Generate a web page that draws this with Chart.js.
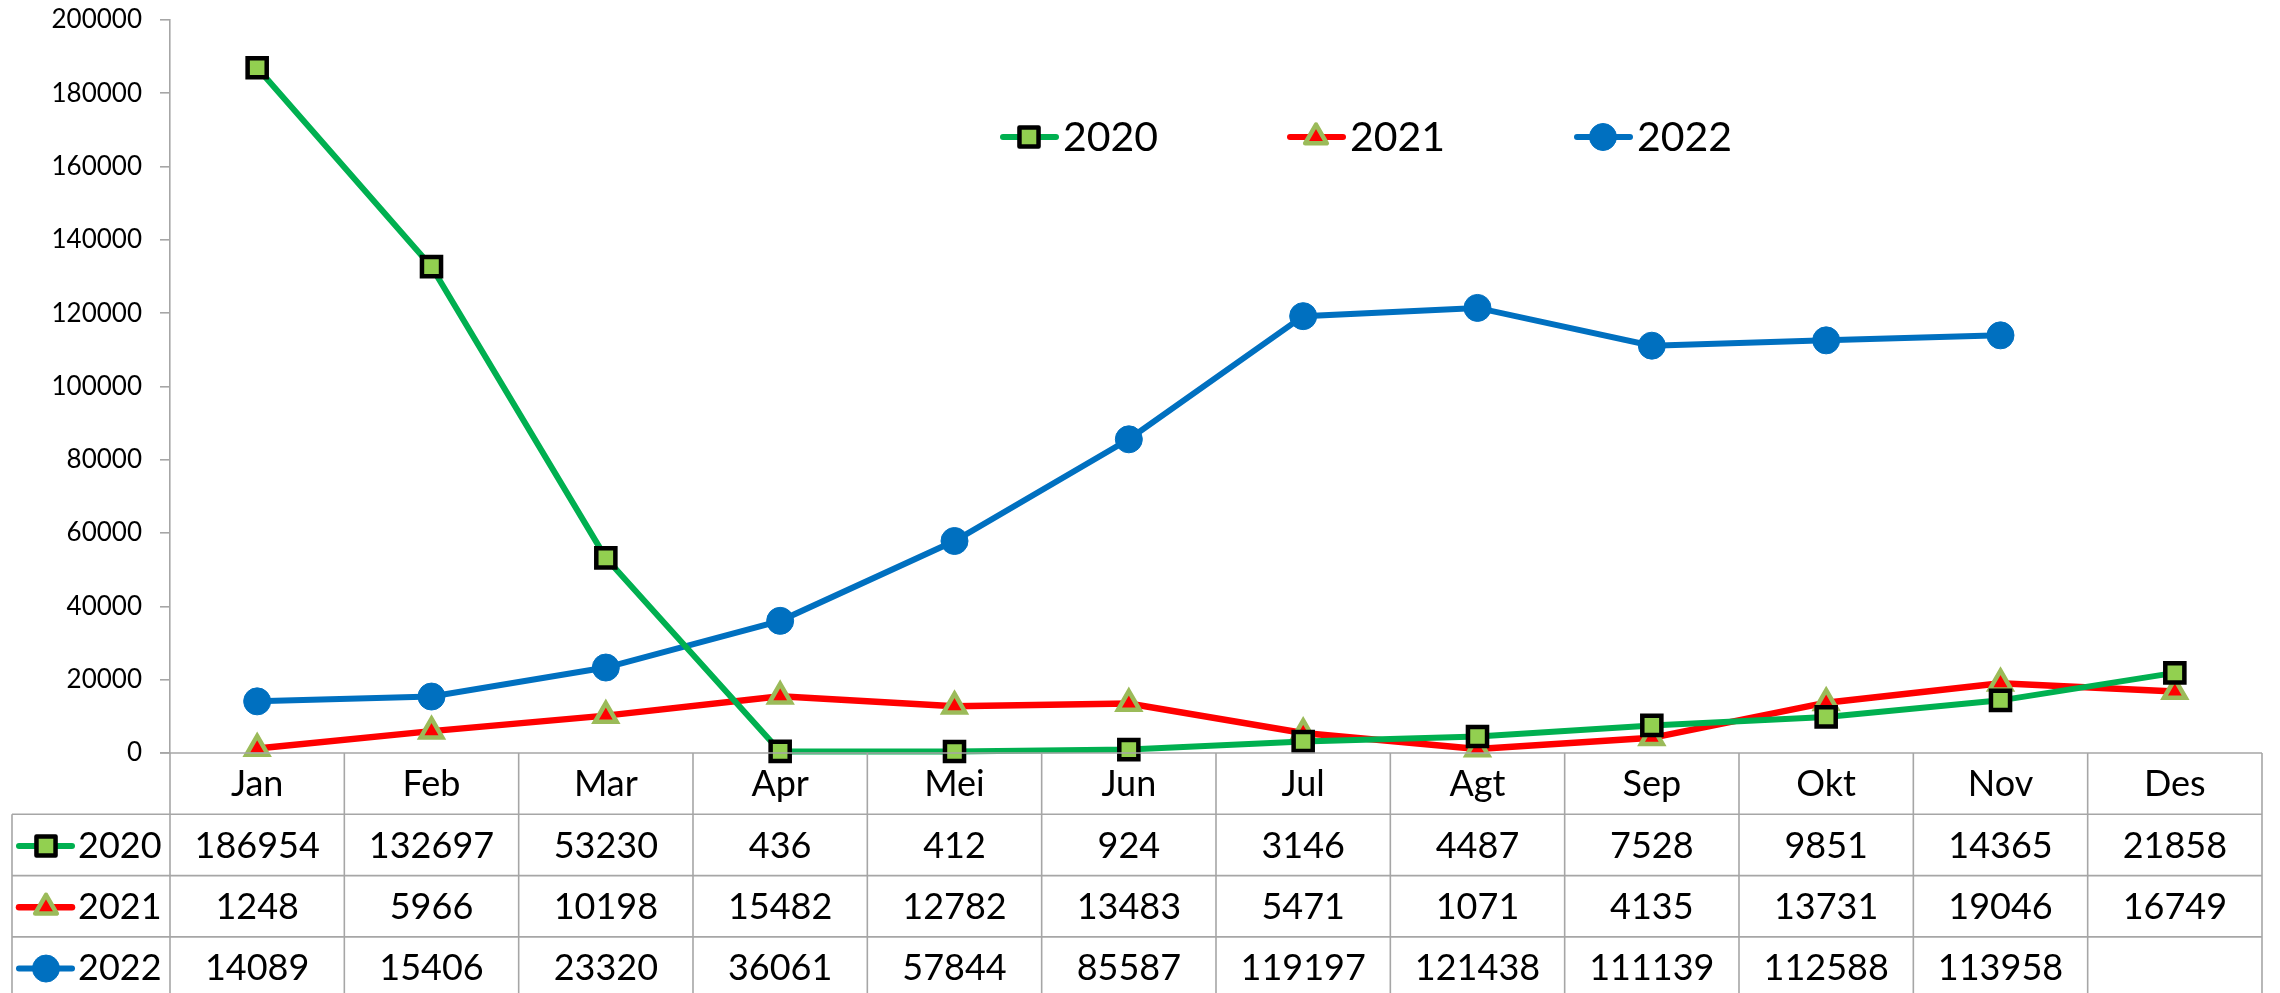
<!DOCTYPE html>
<html>
<head>
<meta charset="utf-8">
<script src="https://cdn.jsdelivr.net/npm/chart.js@4/dist/chart.umd.min.js"></script>
<style>
  html, body { margin: 0; padding: 0; background: #ffffff; }
  #wrap { width: 2280px; height: 993px; position: relative; }
</style>
</head>
<body>
<div id="wrap"><canvas id="c" width="2280" height="993"></canvas></div>
<script>
const months = ['Jan','Feb','Mar','Apr','Mei','Jun','Jul','Agt','Sep','Okt','Nov','Des'];
const seriesNames = ['2020','2021','2022'];
const values2020 = [186954,132697,53230,436,412,924,3146,4487,7528,9851,14365,21858];
const values2021 = [1248,5966,10198,15482,12782,13483,5471,1071,4135,13731,19046,16749];
const values2022 = [14089,15406,23320,36061,57844,85587,119197,121438,111139,112588,113958,null];
const yTicks = [0,20000,40000,60000,80000,100000,120000,140000,160000,180000,200000];

const FONT = 'Lato, "Open Sans", sans-serif';
const GRIDC = '#a6a6a6';

const styles = [
  { line: '#00B050', fill: '#92D050', border: '#000000', shape: 'rect', r: 13.5, bw: 4.5, lw: 6 },
  { line: '#FF0000', fill: '#FF0000', border: '#9BBB59', shape: 'triangle', r: 12.5, bw: 4.5, lw: 6.5 },
  { line: '#0070C0', fill: '#0070C0', border: '#0070C0', shape: 'circle', r: 13.5, bw: 1, lw: 6 }
];
const seriesValues = [values2020, values2021, values2022];

function drawMarker(ctx, st, x, y) {
  ctx.save();
  ctx.translate(x, y);
  ctx.fillStyle = st.fill;
  ctx.strokeStyle = st.border;
  ctx.lineWidth = st.bw;
  ctx.lineJoin = 'round';
  ctx.beginPath();
  const r = st.r;
  if (st.shape === 'rect') {
    const s = Math.SQRT1_2 * r;
    ctx.rect(-s, -s, 2 * s, 2 * s);
  } else if (st.shape === 'triangle') {
    const h = Math.sin(Math.PI / 3) * r;
    ctx.moveTo(0, -r);
    ctx.lineTo(h, r / 2);
    ctx.lineTo(-h, r / 2);
    ctx.closePath();
  } else {
    ctx.arc(0, 0, r, 0, Math.PI * 2);
  }
  ctx.fill();
  if (st.bw > 0) ctx.stroke();
  ctx.restore();
}

const tablePlugin = {
  id: 'dataTable',
  afterDraw(chart) {
    const ctx = chart.ctx;
    const xs = chart.scales.x;
    const ys = chart.scales.y;
    const area = chart.chartArea;
    const y0 = ys.getPixelForValue(0);
    const n = months.length;
    const colW = (area.right - area.left) / n;
    const rowH = 61.3;
    const bottom = chart.height + 5;
    const tableLeft = 12;
    ctx.save();
    ctx.strokeStyle = GRIDC;
    ctx.lineWidth = 1.6;
    ctx.beginPath();
    ctx.moveTo(area.left - 10, y0);
    ctx.lineTo(area.right, y0);
    ctx.stroke();
    for (let k = 1; k <= 3; k++) {
      const yy = y0 + k * rowH;
      ctx.beginPath();
      ctx.moveTo(tableLeft, yy);
      ctx.lineTo(area.right, yy);
      ctx.stroke();
    }
    for (let i = 0; i <= n; i++) {
      const xx = area.left + i * colW;
      ctx.beginPath();
      ctx.moveTo(xx, y0);
      ctx.lineTo(xx, bottom);
      ctx.stroke();
    }
    ctx.beginPath();
    ctx.moveTo(tableLeft, y0 + rowH);
    ctx.lineTo(tableLeft, bottom);
    ctx.stroke();

    ctx.fillStyle = '#000000';
    ctx.font = '36px ' + FONT;
    ctx.textAlign = 'center';
    ctx.textBaseline = 'middle';
    months.forEach((m, i) => {
      ctx.fillText(m, xs.getPixelForValue(i), y0 + rowH * 0.5 + 1);
    });
    seriesValues.forEach((vals, s) => {
      const cy = y0 + rowH * (s + 1.5) + 1;
      vals.forEach((v, i) => {
        if (v !== null && v !== undefined) ctx.fillText(String(v), xs.getPixelForValue(i), cy);
      });
      const st = styles[s];
      ctx.strokeStyle = st.line;
      ctx.lineWidth = st.lw;
      ctx.lineCap = 'round';
      ctx.beginPath();
      ctx.moveTo(19, cy);
      ctx.lineTo(72, cy);
      ctx.stroke();
      drawMarker(ctx, st, 46, cy);
      ctx.textAlign = 'left';
      ctx.fillStyle = '#000000';
      ctx.fillText(seriesNames[s], 78, cy);
      ctx.textAlign = 'center';
    });
    ctx.restore();

    // legend
    const legendY = 137;
    const legendX = [1029, 1316, 1603];
    ctx.save();
    seriesNames.forEach((name, s) => {
      const st = styles[s];
      const mx = legendX[s];
      ctx.strokeStyle = st.line;
      ctx.lineWidth = 6;
      ctx.lineCap = 'round';
      ctx.beginPath();
      ctx.moveTo(mx - 26, legendY);
      ctx.lineTo(mx + 27, legendY);
      ctx.stroke();
      drawMarker(ctx, st, mx, legendY);
      ctx.fillStyle = '#000000';
      ctx.font = '41px ' + FONT;
      ctx.textAlign = 'left';
      ctx.textBaseline = 'middle';
      ctx.fillText(name, mx + 34, legendY + 1);
    });
    ctx.restore();
  }
};

const datasets = seriesNames.map((name, s) => {
  const st = styles[s];
  return {
    label: name,
    data: seriesValues[s],
    borderColor: st.line,
    backgroundColor: st.fill,
    borderWidth: st.lw,
    tension: 0,
    pointStyle: st.shape,
    pointRadius: st.r,
    pointBackgroundColor: st.fill,
    pointBorderColor: st.border,
    pointBorderWidth: st.bw,
    spanGaps: false,
    clip: false
  };
});

new Chart(document.getElementById('c'), {
  type: 'line',
  data: { labels: months, datasets },
  options: {
    responsive: false,
    animation: false,
    devicePixelRatio: 1,
    layout: { padding: { top: 20, right: 8, bottom: 240, left: 0 } },
    plugins: { legend: { display: false }, tooltip: { enabled: false } },
    scales: {
      x: { display: false, offset: true },
      y: {
        min: 0, max: 200000,
        afterBuildTicks(scale) { scale.ticks = yTicks.map(v => ({ value: v })); },
        afterFit(scale) { scale.width = 170; scale.paddingTop = 0; scale.paddingBottom = 0; },
        grid: { drawOnChartArea: false, drawTicks: true, tickLength: 10, color: GRIDC, lineWidth: 1.6 },
        border: { color: GRIDC, width: 1.6 },
        ticks: { color: '#000000', font: { family: FONT, size: 26 }, padding: 18,
                 callback: (v) => String(v) }
      }
    }
  },
  plugins: [tablePlugin]
});
</script>
</body>
</html>
